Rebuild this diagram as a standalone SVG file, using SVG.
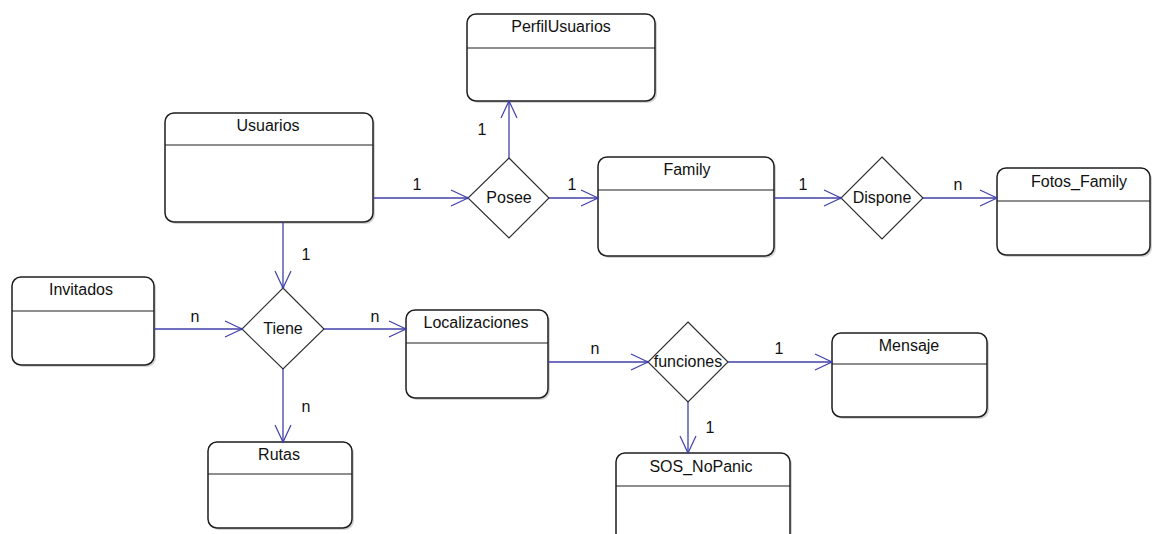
<svg xmlns="http://www.w3.org/2000/svg" width="1154" height="534" viewBox="0 0 1154 534">
  <style>
    .box { fill: #ffffff; stroke: #1e1e1e; stroke-width: 1.5; }
    .shadow { fill: #b8b8b8; stroke: none; opacity: 0.6; }
    .sep { stroke: #1e1e1e; stroke-width: 1.2; }
    .rel { fill: #ffffff; stroke: #2a2a2a; stroke-width: 1.1; }
    .name { font-family: "Liberation Sans", Arial, sans-serif; font-size: 16px; fill: #111111; text-anchor: middle; }
    .card { font-family: "Liberation Sans", Arial, sans-serif; font-size: 16px; fill: #111111; text-anchor: middle; }
    .link { fill: none; stroke: #4040aa; stroke-width: 1.3; marker-end: url(#open); }
  </style>
  <defs>
    <marker id="open" markerUnits="userSpaceOnUse" viewBox="-19 -11 22 22" refX="0" refY="0" markerWidth="22" markerHeight="22" orient="auto">
      <path d="M-17,-8 L0,0 L-17,8" fill="none" stroke="#4040aa" stroke-width="1.2"/>
      <circle cx="-0.5" cy="0" r="1.3" fill="#4040aa"/>
    </marker>
  </defs>
  <rect width="1154" height="534" fill="#ffffff"/>

  <!-- entities -->
  <g id="PerfilUsuarios">
    <rect class="shadow" x="469" y="16" width="188" height="87" rx="9"/>
    <rect class="box" x="467" y="14" width="188" height="87" rx="9"/>
    <line class="sep" x1="467" y1="48" x2="655" y2="48"/>
    <text class="name" x="561" y="32">PerfilUsuarios</text>
  </g>
  <g id="Usuarios">
    <rect class="shadow" x="167" y="115" width="208" height="109" rx="9"/>
    <rect class="box" x="165" y="113" width="208" height="109" rx="9"/>
    <line class="sep" x1="165" y1="145" x2="373" y2="145"/>
    <text class="name" x="268" y="131">Usuarios</text>
  </g>
  <g id="Family">
    <rect class="shadow" x="600" y="159" width="176" height="99" rx="9"/>
    <rect class="box" x="598" y="157" width="176" height="99" rx="9"/>
    <line class="sep" x1="598" y1="190" x2="774" y2="190"/>
    <text class="name" x="687" y="175">Family</text>
  </g>
  <g id="Fotos_Family">
    <rect class="shadow" x="999" y="170" width="153" height="87" rx="9"/>
    <rect class="box" x="997" y="168" width="153" height="87" rx="9"/>
    <line class="sep" x1="997" y1="201" x2="1150" y2="201"/>
    <text class="name" x="1079" y="187">Fotos_Family</text>
  </g>
  <g id="Invitados">
    <rect class="shadow" x="14" y="279" width="142" height="88" rx="9"/>
    <rect class="box" x="12" y="277" width="142" height="88" rx="9"/>
    <line class="sep" x1="12" y1="311" x2="154" y2="311"/>
    <text class="name" x="81" y="295">Invitados</text>
  </g>
  <g id="Localizaciones">
    <rect class="shadow" x="408" y="312" width="142" height="88" rx="9"/>
    <rect class="box" x="406" y="310" width="142" height="88" rx="9"/>
    <line class="sep" x1="406" y1="343" x2="548" y2="343"/>
    <text class="name" x="476" y="328">Localizaciones</text>
  </g>
  <g id="Mensaje">
    <rect class="shadow" x="834" y="335" width="155" height="84" rx="9"/>
    <rect class="box" x="832" y="333" width="155" height="84" rx="9"/>
    <line class="sep" x1="832" y1="364" x2="987" y2="364"/>
    <text class="name" x="909" y="351">Mensaje</text>
  </g>
  <g id="Rutas">
    <rect class="shadow" x="210" y="444" width="144" height="86" rx="9"/>
    <rect class="box" x="208" y="442" width="144" height="86" rx="9"/>
    <line class="sep" x1="208" y1="474" x2="352" y2="474"/>
    <text class="name" x="279" y="460">Rutas</text>
  </g>
  <g id="SOS_NoPanic">
    <rect class="shadow" x="618" y="455" width="174" height="100" rx="9"/>
    <rect class="box" x="616" y="453" width="174" height="100" rx="9"/>
    <line class="sep" x1="616" y1="486" x2="790" y2="486"/>
    <text class="name" x="701" y="472">SOS_NoPanic</text>
  </g>

  <!-- relationships -->
  <g id="Posee">
    <polygon class="rel" points="509,158 549,198 509,238 468,198"/>
    <text class="name" x="509" y="203">Posee</text>
  </g>
  <g id="Dispone">
    <polygon class="rel" points="882,157 923,198 882,239 841,198"/>
    <text class="name" x="882" y="203">Dispone</text>
  </g>
  <g id="Tiene">
    <polygon class="rel" points="283,288 324,329 283,369 242,329"/>
    <text class="name" x="283" y="334">Tiene</text>
  </g>
  <g id="funciones">
    <polygon class="rel" points="688,322 728,362 688,402 648,362"/>
    <text class="name" x="688" y="367">funciones</text>
  </g>

  <!-- connectors -->
  <g id="connectors">
    <path class="link" d="M373,198 H468"/>
    <path class="link" d="M509,158 V101"/>
    <path class="link" d="M549,198 H598"/>
    <path class="link" d="M774,198 H841"/>
    <path class="link" d="M923,198 H997"/>
    <path class="link" d="M283,222 V288"/>
    <path class="link" d="M154,329 H242"/>
    <path class="link" d="M324,329 H406"/>
    <path class="link" d="M283,369 V442"/>
    <path class="link" d="M548,362 H648"/>
    <path class="link" d="M728,362 H832"/>
    <path class="link" d="M688,402 V453"/>
  </g>

  <!-- cardinalities -->
  <g id="cardinalities">
    <text class="card" x="417" y="190">1</text>
    <text class="card" x="482" y="135">1</text>
    <text class="card" x="572" y="190">1</text>
    <text class="card" x="803" y="190">1</text>
    <text class="card" x="958" y="190">n</text>
    <text class="card" x="306" y="260">1</text>
    <text class="card" x="195" y="322">n</text>
    <text class="card" x="375" y="322">n</text>
    <text class="card" x="306" y="412">n</text>
    <text class="card" x="595" y="354">n</text>
    <text class="card" x="779" y="354">1</text>
    <text class="card" x="710" y="433">1</text>
  </g>
</svg>
